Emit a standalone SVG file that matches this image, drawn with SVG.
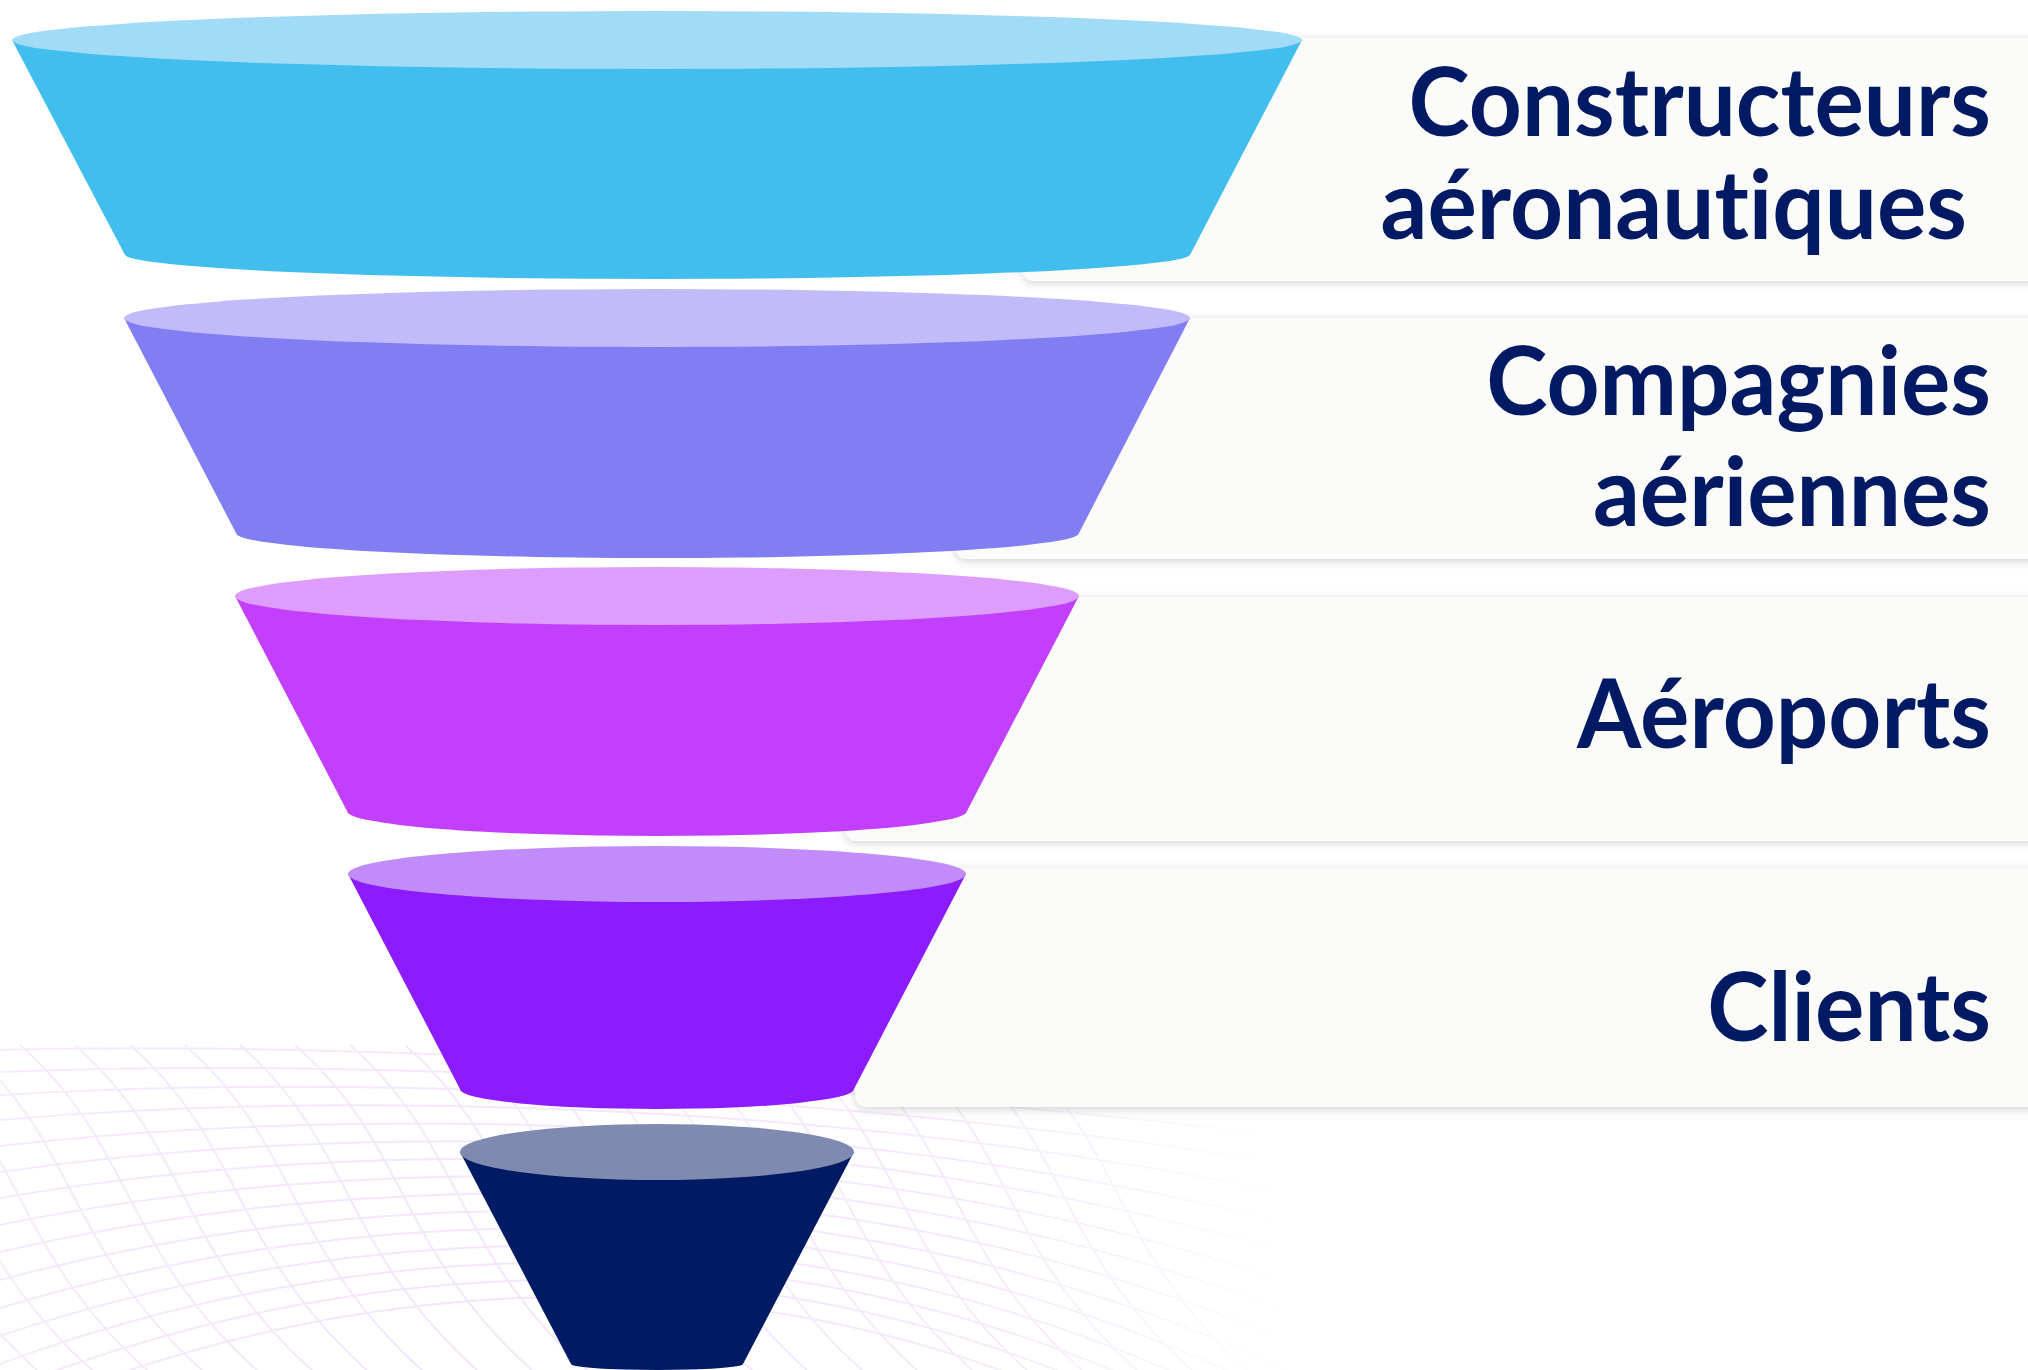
<svg xmlns="http://www.w3.org/2000/svg" width="2028" height="1370" viewBox="0 0 2028 1370">
  <defs>
    <style>
      .band { fill: #FBFCFA; filter: url(#shadow); }
      .label { font-family: Lato, "Liberation Sans", sans-serif; font-weight: 700; font-size: 92.5px; fill: #021A63; text-anchor: end; font-variant-ligatures: none; font-feature-settings: "liga" 0; }
      .mesh path { fill: none; stroke: #F3E5FB; stroke-width: 2; }
    </style>
    <filter id="shadow" x="-5%" y="-20%" width="110%" height="140%">
      <feDropShadow dx="0" dy="2" stdDeviation="5" flood-color="#000000" flood-opacity="0.18"/>
    </filter>
    <radialGradient id="fade" cx="480" cy="1330" r="820" gradientUnits="userSpaceOnUse">
      <stop offset="0" stop-color="#fff" stop-opacity="1"/>
      <stop offset="0.65" stop-color="#fff" stop-opacity="0.75"/>
      <stop offset="1" stop-color="#fff" stop-opacity="0"/>
    </radialGradient>
    <mask id="meshMask" maskUnits="userSpaceOnUse" x="0" y="0" width="2028" height="1370">
      <rect x="0" y="1030" width="1400" height="340" fill="url(#fade)"/>
    </mask>
  </defs>

  <rect x="0" y="0" width="2028" height="1370" fill="#FFFFFF"/>

  <!-- background mesh -->
  <g id="mesh" class="mesh" mask="url(#meshMask)">
    <path d="M0,1050 C350,1040 850,1072 1300,1110"/>
    <path d="M0,1072 C350,1058 850,1082 1300,1138"/>
    <path d="M0,1095 C350,1074 850,1092 1300,1166"/>
    <path d="M0,1120 C350,1090 850,1102 1300,1196"/>
    <path d="M0,1146 C350,1106 850,1112 1300,1226"/>
    <path d="M0,1172 C350,1122 850,1122 1300,1256"/>
    <path d="M0,1198 C350,1138 850,1132 1300,1286"/>
    <path d="M0,1225 C350,1154 850,1142 1300,1316"/>
    <path d="M0,1252 C350,1170 850,1152 1300,1346"/>
    <path d="M0,1280 C350,1186 850,1162 1300,1376"/>
    <path d="M0,1308 C350,1202 850,1172 1300,1406"/>
    <path d="M0,1336 C350,1218 850,1182 1300,1436"/>
    <path d="M0,1364 C350,1234 850,1192 1300,1466"/>
    <path d="M0,1392 C350,1250 850,1202 1300,1496"/>
    <path d="M0,1420 C350,1266 850,1212 1300,1526"/>
    <path d="M-200,1045 C-80,1150 -100,1260 60,1390"/>
    <path d="M-145,1045 C-25,1150 -45,1260 115,1390"/>
    <path d="M-90,1045 C30,1150 10,1260 170,1390"/>
    <path d="M-35,1045 C85,1150 65,1260 225,1390"/>
    <path d="M20,1045 C140,1150 120,1260 280,1390"/>
    <path d="M75,1045 C195,1150 175,1260 335,1390"/>
    <path d="M130,1045 C250,1150 230,1260 390,1390"/>
    <path d="M185,1045 C305,1150 285,1260 445,1390"/>
    <path d="M240,1045 C360,1150 340,1260 500,1390"/>
    <path d="M295,1045 C415,1150 395,1260 555,1390"/>
    <path d="M350,1045 C470,1150 450,1260 610,1390"/>
    <path d="M405,1045 C525,1150 505,1260 665,1390"/>
    <path d="M460,1045 C580,1150 560,1260 720,1390"/>
    <path d="M515,1045 C635,1150 615,1260 775,1390"/>
    <path d="M570,1045 C690,1150 670,1260 830,1390"/>
    <path d="M625,1045 C745,1150 725,1260 885,1390"/>
    <path d="M680,1045 C800,1150 780,1260 940,1390"/>
    <path d="M735,1045 C855,1150 835,1260 995,1390"/>
    <path d="M790,1045 C910,1150 890,1260 1050,1390"/>
    <path d="M845,1045 C965,1150 945,1260 1105,1390"/>
    <path d="M900,1045 C1020,1150 1000,1260 1160,1390"/>
    <path d="M955,1045 C1075,1150 1055,1260 1215,1390"/>
    <path d="M1010,1045 C1130,1150 1110,1260 1270,1390"/>
  </g>

  <!-- label bands -->
  <g id="bands">
    <rect id="band1" class="band" x="1022" y="38" width="1040" height="243" rx="12"/>
    <rect id="band2" class="band" x="955" y="318" width="1110" height="241" rx="12"/>
    <rect id="band3" class="band" x="845" y="597" width="1220" height="244" rx="12"/>
    <rect id="band4" class="band" x="855" y="868" width="1210" height="239" rx="12"/>
  </g>

  <!-- funnel segments -->
  <g id="seg1">
    <path d="M12,40 L125,255 A533,25 0 0 0 1190,255 L1302,40 Z" fill="#41BEEE"/>
    <ellipse cx="657" cy="40" rx="645" ry="29" fill="#A1DBF5"/>
  </g>
  <g id="seg2">
    <path d="M124,318 L236,533 A421.5,25 0 0 0 1079,533 L1190,318 Z" fill="#817EF3"/>
    <ellipse cx="657" cy="318" rx="533" ry="29" fill="#C1BCF9"/>
  </g>
  <g id="seg3">
    <path d="M235,596 L347,811 A310,25 0 0 0 967,811 L1079,596 Z" fill="#C33FFE"/>
    <ellipse cx="657" cy="596" rx="422" ry="29" fill="#DE9CFC"/>
  </g>
  <g id="seg4">
    <path d="M348,874 L460,1089 A197,20 0 0 0 854,1089 L966,874 Z" fill="#8C1BFE"/>
    <ellipse cx="657" cy="874" rx="309" ry="28" fill="#C18CF9"/>
  </g>
  <g id="seg5">
    <path d="M460,1152 L571,1364 A86,6 0 0 0 743,1364 L854,1152 Z" fill="#001A63"/>
    <ellipse cx="657" cy="1152" rx="197" ry="28" fill="#7F8AB0"/>
  </g>

  <!-- labels -->
  <g id="labels">
    <text class="label" transform="translate(1991,136) scale(1,1.045)">Constructeurs</text>
    <text class="label" transform="translate(1967,239) scale(1,1.045)">aéronautiques</text>
    <text class="label" transform="translate(1991,415) scale(1,1.045)">Compagnies</text>
    <text class="label" transform="translate(1991,526) scale(1,1.045)">aériennes</text>
    <text class="label" transform="translate(1991,748) scale(1,1.045)">Aéroports</text>
    <text class="label" transform="translate(1991,1041) scale(1,1.045)">Clients</text>
  </g>

  <g id="connectors"/>
</svg>
